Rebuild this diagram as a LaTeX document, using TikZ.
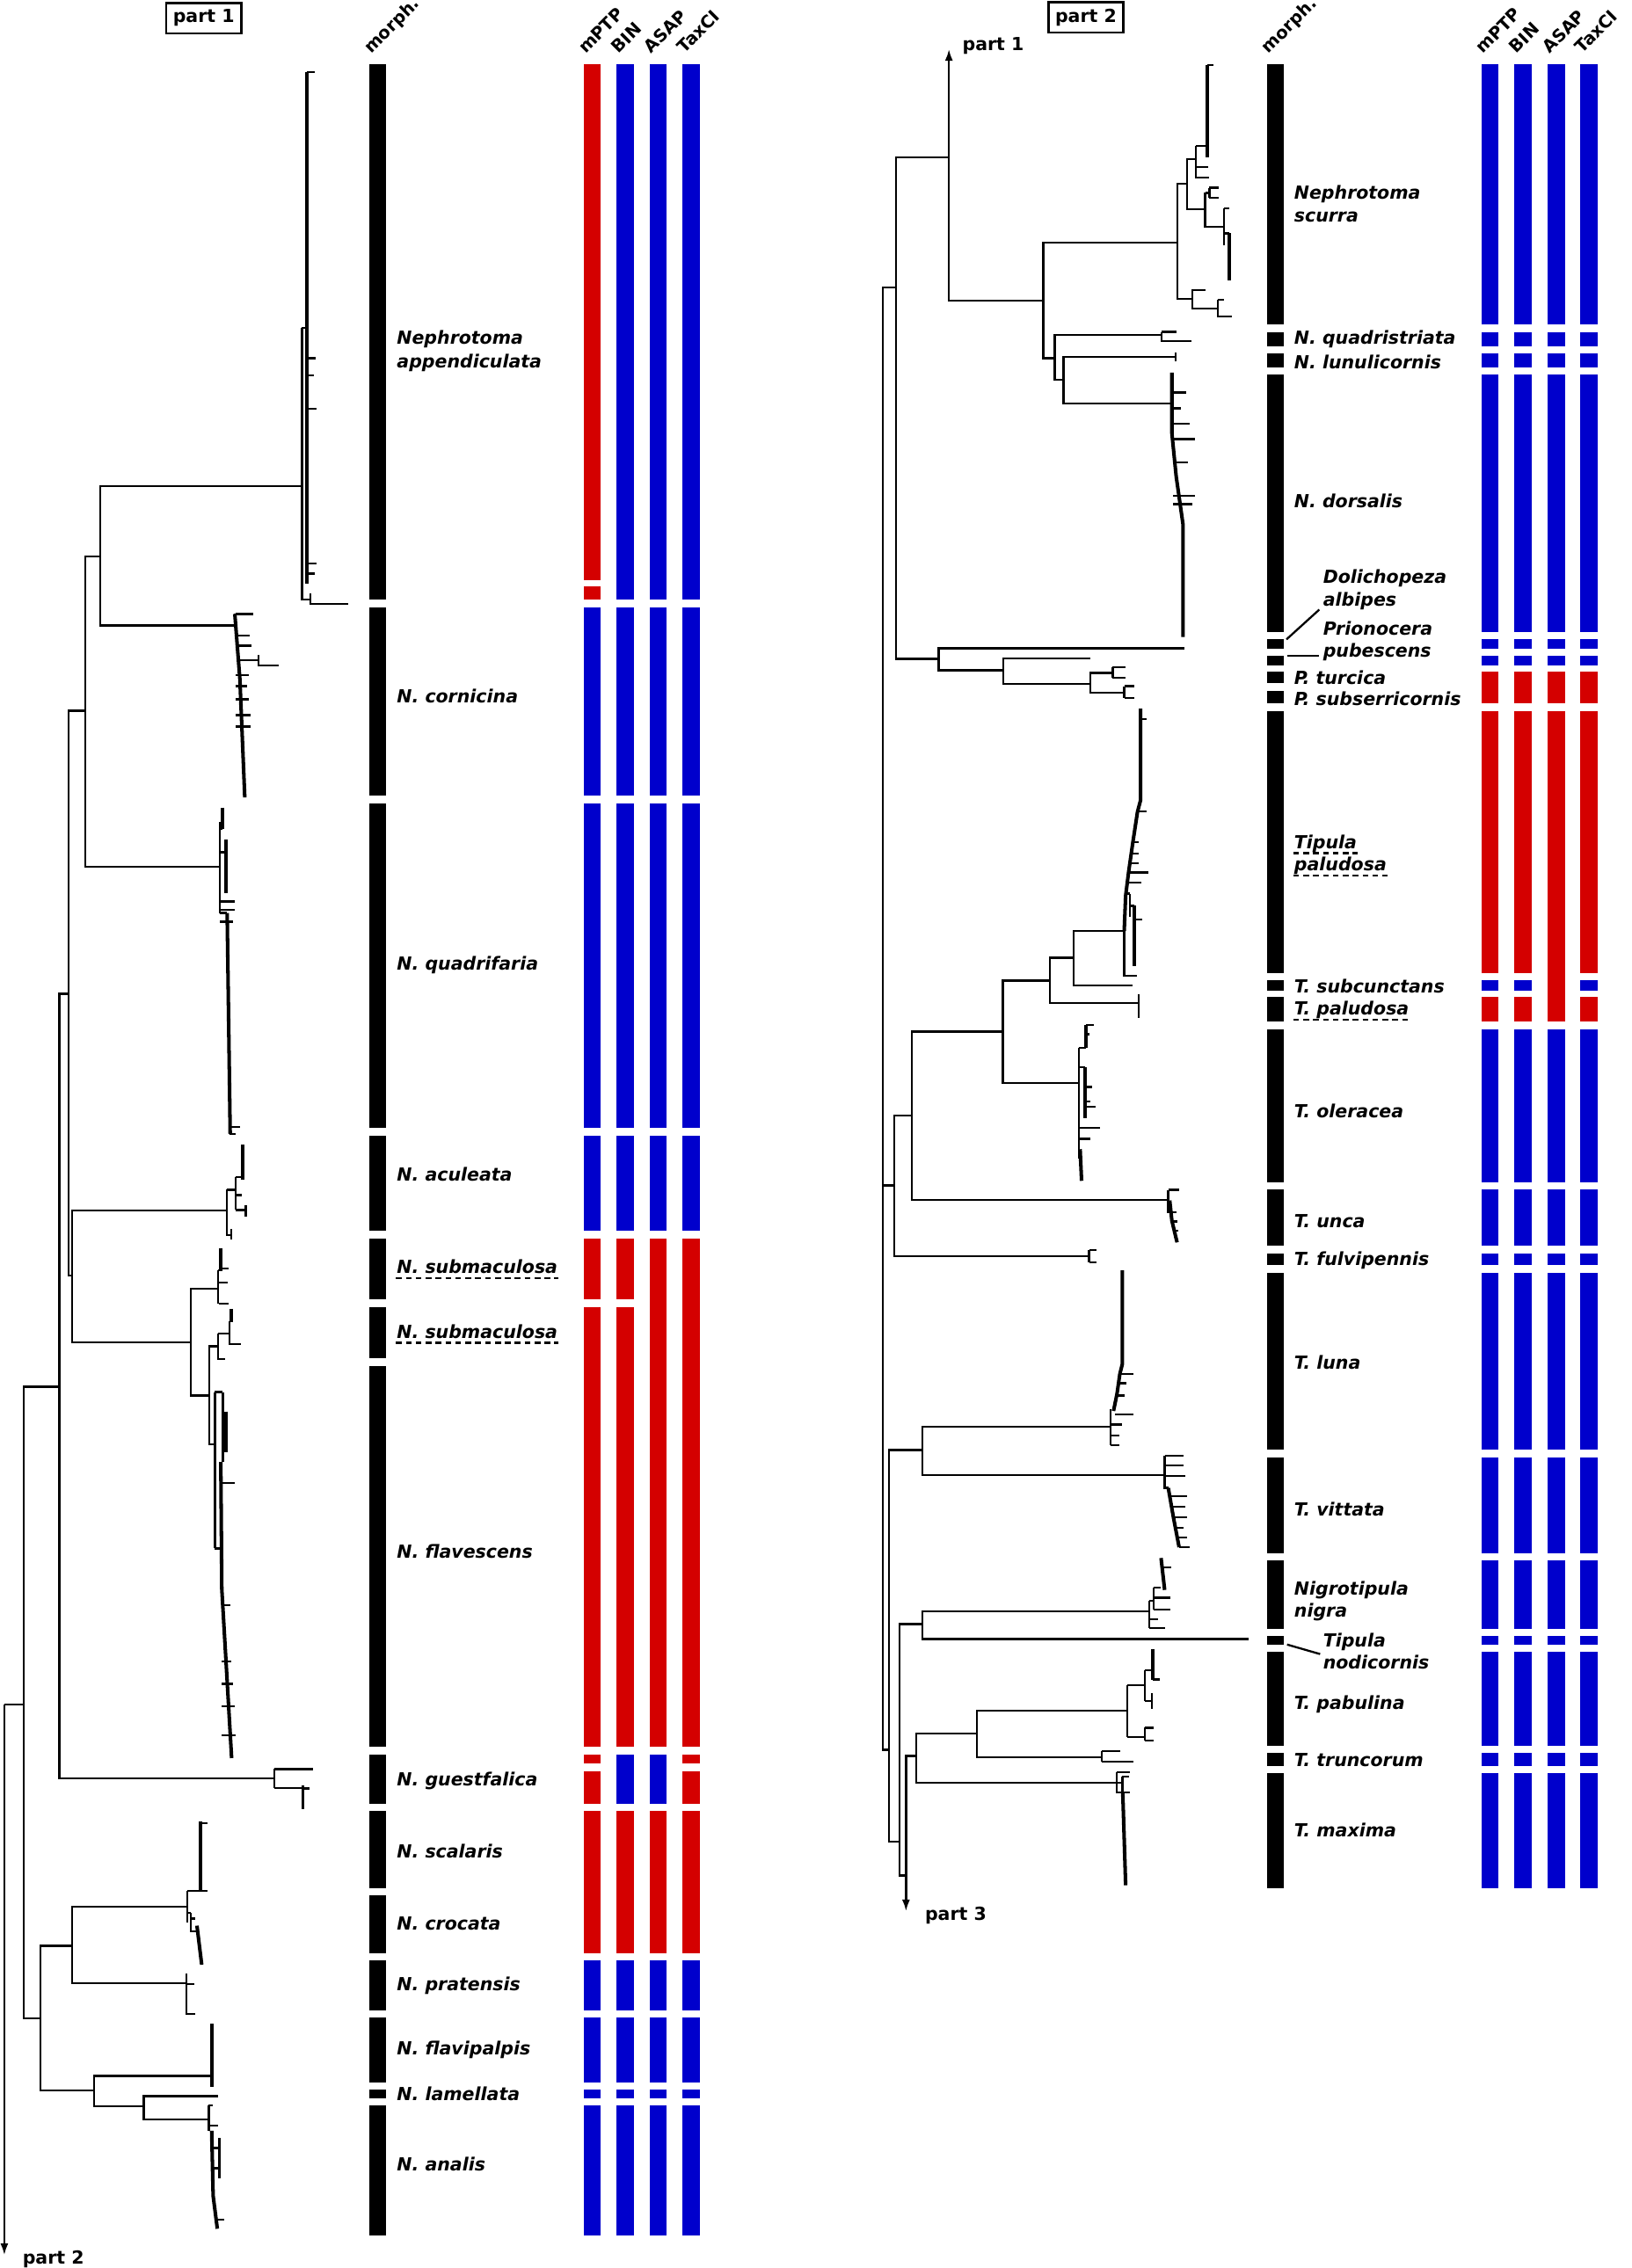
\documentclass[tikz,border=0pt]{standalone}
\usepackage{fontspec}
\setmainfont{DejaVu Sans}
\usetikzlibrary{arrows.meta}
\definecolor{mred}{RGB}{212,0,0}
\definecolor{mblue}{RGB}{0,0,204}
\tikzset{
    every node/.style={inner sep=0pt, font=\fontsize{7.1}{8.5}\selectfont\bfseries}
}
\tikzset{
    every edge/.append style={line width=0.8pt},
    elbow/.style={to path={|- (\tikztotarget)}}
}
\tikzset{
    taxlab/.style={anchor=base west, font=\fontsize{7.1}{8.5}\selectfont\bfseries\itshape},
    colhead/.style={anchor=base west, rotate=45, font=\fontsize{6.8}{8}\selectfont\bfseries},
    partbox/.style={draw, line width=0.9pt, minimum width=1.04cm, minimum height=0.42cm},
    tipline/.style={line width=1.4pt},
    uline/.style={line width=0.8pt, dash pattern=on 2.3pt off 1.6pt},
    partarrow/.style={-{Latex[length=1.6mm,width=1.1mm]}}
}

\begin{document}
\begin{tikzpicture}[x=0.02cm, y=-0.02cm, line width=0.8pt]
	\useasboundingbox (0,0) rectangle (1129,1570);

	% part 1: tree
	\coordinate (r1) at (3,1180);
	\coordinate (arr2) at (3,1561);
	\coordinate (a1) at (16.5,1180);
	\coordinate (b1) at (41,960);
	\coordinate (c1) at (28,1397);
	\coordinate (d1) at (47.5,688);
	\coordinate (e1) at (59,492);
	\coordinate (f1) at (50,883);
	\coordinate (h1) at (69.5,385);
	\coordinate (ap) at (209,336.5);
	\coordinate (co) at (162.5,433);
	\coordinate (qf) at (152,600);
	\coordinate (ac) at (157,838);
	\coordinate (fl) at (132,929);
	\coordinate (sm1) at (151,892);
	\coordinate (fl2) at (145,966);
	\coordinate (sm2) at (151,932);
	\coordinate (fv) at (148.7,1000);
	\coordinate (gu) at (190,1231);
	\coordinate (i1) at (50,1347);
	\coordinate (j1) at (65,1447);
	\coordinate (sc) at (129.5,1320);
	\coordinate (pr) at (129,1373);
	\coordinate (fp) at (146.5,1437);
	\coordinate (k1) at (99.5,1458);
	\coordinate (la) at (151,1451);
	\coordinate (an) at (144.5,1467);

	\draw[partarrow] (r1) -- (arr2);
	\draw (r1) edge[elbow] (a1);
	\draw (a1) edge[elbow] (b1); \draw (a1) edge[elbow] (c1);
	\draw (b1) edge[elbow] (d1); \draw (b1) edge[elbow] (gu);
	\draw (d1) edge[elbow] (e1); \draw (d1) edge[elbow] (f1);
	\draw (e1) edge[elbow] (h1); \draw (e1) edge[elbow] (qf);
	\draw (h1) edge[elbow] (ap); \draw (h1) edge[elbow] (co);
	\draw (f1) edge[elbow] (ac); \draw (f1) edge[elbow] (fl);
	\draw (fl) edge[elbow] (sm1); \draw (fl) edge[elbow] (fl2);
	\draw (fl2) edge[elbow] (sm2); \draw (fl2) edge[elbow] (fv);
	\draw (c1) edge[elbow] (i1); \draw (c1) edge[elbow] (j1);
	\draw (i1) edge[elbow] (sc); \draw (i1) edge[elbow] (pr);
	\draw (j1) edge[elbow] (fp); \draw (j1) edge[elbow] (k1);
	\draw (k1) edge[elbow] (la); \draw (k1) edge[elbow] (an);

	% part 1: tips
	\draw (209,227) -- (209,415) -- (215,415);
	\draw (209,227) -- (212.5,227);
	\draw[tipline] (212.5,50) -- (212.5,404);
	\foreach \y/\x in {50/218, 248/218.7, 260/217, 283/219, 390/219, 397/218}
		\draw (212.5,\y) -- (\x,\y);
	\draw (215,411) -- (215,418) -- (241,418);

	\draw (162.5,425) -- (162.5,433);
	\draw[tipline] (162.5,425) -- (166,470) -- (169.4,552);
	\foreach \y/\x in {425/175, 440/173, 447/174, 467.5/172, 475/171, 484/172, 495/173.5, 503/173.5}
		\draw (163,\y) -- (\x,\y);
	\draw (164.5,457) -- (179,457); \draw (179,453.4) -- (179,460.6) -- (192.7,460.6);

	\draw (152,569) -- (152,632);
	\draw[tipline] (153.8,559) -- (153.8,574);
	\draw[tipline] (156.2,581) -- (156.2,618);
	\draw (152,574) -- (153.8,574); \draw (152,590) -- (156.2,590);
	\foreach \y/\x in {624/162.3, 630/162.3, 638/161}
		\draw (152,\y) -- (\x,\y);
	\draw (152,632) -- (157.2,632);
	\draw[tipline] (157.2,632) -- (159.3,785);
	\draw (159,780) -- (166,780); \draw (159,785) -- (163.3,785);

	\draw (157,823.6) -- (157,855) -- (160,855); \draw (160,851) -- (160,858);
	\draw (157,823.6) -- (163,823.6); \draw (163,815) -- (163,837.6);
	\draw (163,815) -- (167.8,815); \draw[tipline] (167.8,792.5) -- (167.8,816.7);
	\draw (163,827.3) -- (167.4,827.3); \draw (163,837.6) -- (170,837.6);
	\draw (170,834) -- (170,842);

	\draw (151,879.5) -- (151,902.6);
	\draw[tipline] (153,864) -- (153,880);
	\draw (151,879.5) -- (153,879.5);
	\foreach \y/\x in {878/158, 888/157.7, 902.6/158}
		\draw (151.5,\y) -- (\x,\y);

	\draw (151,923.3) -- (151,940.8) -- (155.8,940.8);
	\draw (151,923.3) -- (159,923.3); \draw (159,914.8) -- (159,930.4) -- (166.8,930.4);
	\draw[tipline] (160,906) -- (160,915); \draw (159,914.8) -- (160,914.8);

	\draw (148.7,963.6) -- (148.7,1071.9);
	\draw (148.7,963.6) -- (154.2,963.6); \draw (154.2,963.6) -- (154.2,1012);
	\draw[tipline] (156.6,977) -- (156.6,1005.5); \draw (154.2,990) -- (156.6,990);
	\draw (148.7,1071.9) -- (152.8,1071.9);
	\draw[tipline] (152.8,1012) -- (153.5,1100) -- (160.3,1217);
	\foreach \y/\x in {1026.5/162.3, 1111/159.3, 1150/160.3, 1165.7/161.3, 1181/162.3, 1201.4/163.3}
		\draw (153.5,\y) -- (\x,\y);

	\draw (190,1224.6) -- (190,1237.7);
	\draw (190,1224.6) -- (216.7,1224.6);
	\draw (190,1237.7) -- (209.6,1237.7); \draw (209.6,1236) -- (209.6,1252.6);
	\draw (209.6,1238) -- (214,1238);

	\draw (129.5,1309) -- (129.5,1331);
	\draw (129.5,1309) -- (143.4,1309); \draw[tipline] (139,1260.6) -- (139,1309);
	\draw (139,1262) -- (143.4,1262);
	\draw (129.5,1324) -- (131.9,1324); \draw (131.9,1324) -- (131.9,1337) -- (136.3,1337);
	\draw (131.9,1328) -- (135,1328);
	\draw[tipline] (136.3,1333) -- (139.6,1360);

	\draw (129,1366) -- (129,1394) -- (135,1394);
	\draw (129,1373.6) -- (134.3,1373.6);

	\draw[tipline] (146.5,1401) -- (146.5,1444.5);

	\draw (144.5,1457.5) -- (144.5,1475); \draw (144.5,1457.5) -- (147,1457.5);
	\draw (144.5,1471.4) -- (151.2,1471.4);
	\draw[tipline] (146.5,1475) -- (147.5,1520) -- (150.4,1542.8);
	\draw (147,1487) -- (151.8,1487); \draw (147.3,1501) -- (151.8,1501);
	\draw (151.8,1480) -- (151.8,1508); \draw (150,1536.6) -- (155.2,1536.6);

	% part 2: tree
	\coordinate (R2) at (611,820.6);
	\coordinate (A2) at (620,199);
	\coordinate (P1) at (656.7,109);
	\coordinate (ar1) at (656.7,34);
	\coordinate (N2) at (722,208);
	\coordinate (SC) at (815,168);
	\coordinate (SCa) at (821.7,127);
	\coordinate (SCb) at (825,207);
	\coordinate (SCc) at (827.8,110);
	\coordinate (SCd) at (834,145);
	\coordinate (SCe) at (847,157);
	\coordinate (SCf) at (843,213.6);
	\coordinate (SCg) at (834,201);
	\coordinate (QL) at (730,248);
	\coordinate (QS) at (804,232);
	\coordinate (LD) at (736,263);
	\coordinate (LU) at (813.6,247);
	\coordinate (DO) at (811,279.5);
	\coordinate (D2) at (649.6,456);
	\coordinate (DA) at (819.6,448.7);
	\coordinate (PR) at (694.5,464);
	\coordinate (PP) at (754.7,455.8);
	\coordinate (PT) at (754.7,473.5);
	\coordinate (TU) at (770,465.8);
	\coordinate (SS) at (778,479.7);
	\coordinate (T2) at (618.8,820.6);
	\coordinate (T3) at (631,772);
	\coordinate (T4) at (694,714);
	\coordinate (T5) at (726.4,678.8);
	\coordinate (T6) at (743,663);
	\coordinate (PA) at (778,644.5);
	\coordinate (SU) at (783.6,682.2);
	\coordinate (PA2) at (788,694.4);
	\coordinate (OL) at (746.7,749.8);
	\coordinate (UN) at (808.5,830.6);
	\coordinate (FU) at (753.7,869.4);
	\coordinate (T7) at (615.2,1211.3);
	\coordinate (LV) at (638.5,1003.8);
	\coordinate (LN) at (768.6,987.6);
	\coordinate (VI) at (806,1021);
	\coordinate (T8) at (622.5,1275);
	\coordinate (NN) at (638.5,1124.2);
	\coordinate (NI) at (795.3,1115.4);
	\coordinate (ND) at (864,1134.5);
	\coordinate (M2) at (627,1298.3);
	\coordinate (ar3) at (627,1323);
	\coordinate (T9) at (634,1215.6);
	\coordinate (T10) at (676,1200);
	\coordinate (PB) at (780,1184);
	\coordinate (TR) at (762.5,1216.3);
	\coordinate (MX) at (773,1234);

	\draw[partarrow] (P1) -- (ar1);
	\draw[partarrow] (M2) -- (ar3);
	\draw (R2) edge[elbow] (A2); \draw (R2) edge[elbow] (T2); \draw (R2) edge[elbow] (T7);
	\draw (A2) edge[elbow] (P1); \draw (A2) edge[elbow] (D2);
	\draw (P1) edge[elbow] (N2);
	\draw (N2) edge[elbow] (SC); \draw (N2) edge[elbow] (QL);
	\draw (SC) edge[elbow] (SCa); \draw (SC) edge[elbow] (SCb);
	\draw (SCa) edge[elbow] (SCc); \draw (SCa) edge[elbow] (SCd);
	\draw (SCd) edge[elbow] (SCe);
	\draw (SCb) edge[elbow] (SCf); \draw (SCb) edge[elbow] (SCg);
	\draw (QL) edge[elbow] (QS); \draw (QL) edge[elbow] (LD);
	\draw (LD) edge[elbow] (LU); \draw (LD) edge[elbow] (DO);
	\draw (D2) edge[elbow] (DA); \draw (D2) edge[elbow] (PR);
	\draw (PR) edge[elbow] (PP); \draw (PR) edge[elbow] (PT);
	\draw (PT) edge[elbow] (TU); \draw (PT) edge[elbow] (SS);
	\draw (T2) edge[elbow] (T3); \draw (T2) edge[elbow] (FU);
	\draw (T3) edge[elbow] (T4); \draw (T3) edge[elbow] (UN);
	\draw (T4) edge[elbow] (T5); \draw (T4) edge[elbow] (OL);
	\draw (T5) edge[elbow] (T6); \draw (T5) edge[elbow] (PA2);
	\draw (T6) edge[elbow] (PA); \draw (T6) edge[elbow] (SU);
	\draw (T7) edge[elbow] (LV); \draw (T7) edge[elbow] (T8);
	\draw (LV) edge[elbow] (LN); \draw (LV) edge[elbow] (VI);
	\draw (T8) edge[elbow] (NN); \draw (T8) edge[elbow] (M2);
	\draw (NN) edge[elbow] (NI); \draw (NN) edge[elbow] (ND);
	\draw (M2) edge[elbow] (T9);
	\draw (T9) edge[elbow] (T10); \draw (T9) edge[elbow] (MX);
	\draw (T10) edge[elbow] (PB); \draw (T10) edge[elbow] (TR);

	% part 2: tips
	\draw (827.8,101) -- (827.8,123) -- (837,123);
	\draw (827.8,101) -- (835.5,101); \draw (827.8,115.5) -- (836,115.5);
	\draw[tipline] (835.5,45) -- (835.5,109); \draw (835.5,45) -- (840,45);
	\draw (834,133.5) -- (834,157); \draw (834,133.5) -- (837,133.5);
	\draw (837,130) -- (837,137);
	\draw (837,130) -- (843.6,130); \draw (837,137) -- (843.6,137);
	\draw (847,144.4) -- (847,170); \draw (847,144.4) -- (851,144.4);
	\draw (847,161.5) -- (851,161.5); \draw[tipline] (851,161.5) -- (851,194);
	\draw (843,207.4) -- (843,219) -- (852.5,219); \draw (843,207.4) -- (847,207.4);

	\draw (804,229.8) -- (804,236) -- (824.7,236); \draw (804,229.8) -- (814.5,229.8);
	\draw (813.6,244) -- (813.6,250);
	\draw[tipline] (811,258) -- (811,300) -- (814,330) -- (818.7,363) -- (818.7,441);
	\foreach \y/\x in {271.7/820.6, 282.6/817.5, 293.4/823.3, 304/826.9, 320/822, 343/826.9, 349/825.4}
		\draw (812,\y) -- (\x,\y);

	\draw (770,462) -- (770,469);
	\draw (770,462) -- (778.7,462); \draw (770,469) -- (778.7,469);
	\draw (778,475) -- (778,483);
	\draw (778,475) -- (784.7,475); \draw (778,483) -- (784.7,483);

	\draw[tipline] (789.3,490.5) -- (789.3,554) -- (787.2,562) -- (784,583) -- (781,604) -- (779,620) -- (778,644.5);
	\draw (778,644.5) -- (778,675.3) -- (786.6,675.3);
	\foreach \xa/\y/\xb in {789.3/497.7/793.7, 787.5/561.6/793.3, 784.5/583/788, 783.5/591/788, 782.5/597.5/788, 781.5/604/795, 780.5/611/790, 779.5/618.6/782}
		\draw (\xa,\y) -- (\xb,\y);
	\draw (782,618.6) -- (782,634.4); \draw (782,627) -- (785.2,627);
	\draw[tipline] (785.2,627) -- (785.2,669); \draw (785.2,636.3) -- (790.7,636.3);
	\draw (788,688.5) -- (788,704.4);

	\draw (746.7,725.5) -- (746.7,802); \draw (746.7,725.5) -- (751.7,725.5);
	\draw[tipline] (751.7,709.7) -- (751.7,725.5);
	\draw (751.7,709.7) -- (756.8,709.7); \draw (751.7,716) -- (754,716);
	\draw (746.7,738.7) -- (750.7,738.7); \draw[tipline] (750.7,738.7) -- (750.7,774.3);
	\foreach \y/\x in {752.4/755.8, 762.3/754.7, 766.2/758.2}
		\draw (750.7,\y) -- (\x,\y);
	\draw (746.7,780.9) -- (761.3,780.9); \draw (746.7,788.3) -- (754.4,788.3);
	\draw[tipline] (747.5,795.5) -- (748.5,817.4);

	\draw (808.5,823.7) -- (808.5,840); \draw (808.5,823.7) -- (816,823.7);
	\draw[tipline] (809.5,831) -- (811,845) -- (814.6,860);
	\draw (810,839) -- (814,839); \draw (810.5,845.6) -- (815,845.6); \draw (811.5,852) -- (815.5,852);

	\draw (753.7,865.4) -- (753.7,874);
	\draw (753.7,865.4) -- (759,865.4); \draw (753.7,874) -- (759,874);

	\draw[tipline] (776.7,879.4) -- (776.7,944.3) -- (775,951) -- (773,965) -- (770.6,976.7);
	\draw (768.6,975.2) -- (768.6,1000.3);
	\foreach \xa/\y/\xb in {775/951/784.2, 774/957.5/779.7, 773/966/778, 771.5/979/784.2, 768.6/986.1/776.7, 768.6/993.5/774.6, 768.6/1000.3/774.6}
		\draw (\xa,\y) -- (\xb,\y);

	\draw (806,1007.7) -- (806,1030) -- (808.5,1030);
	\draw (806,1007.7) -- (819.3,1007.7); \draw (806,1014.5) -- (819.3,1014.5);
	\draw (806,1021.5) -- (820.3,1021.5);
	\draw[tipline] (808.5,1030) -- (812,1050) -- (816,1071);
	\foreach \xa/\y/\xb in {809.5/1035.7/821.3, 811/1043/820.3, 812/1050.4/821.3, 813.5/1057.8/819.3, 814.5/1064.3/821.7, 816/1071/823.3}
		\draw (\xa,\y) -- (\xb,\y);

	\draw (795.3,1108) -- (795.3,1127); \draw (795.3,1108) -- (798.4,1108);
	\draw (798.4,1099) -- (798.4,1114); \draw (798.4,1099) -- (803.5,1099);
	\draw[tipline] (803.5,1078.5) -- (806,1100.6);
	\draw (805,1085) -- (810.6,1085);
	\draw (798.4,1106) -- (810,1106); \draw (798.4,1114) -- (810,1114);
	\draw (795.3,1121) -- (801.4,1121); \draw (795.3,1127) -- (806.5,1127);

	\draw (780,1166.4) -- (780,1202.4);
	\draw (780,1166.4) -- (792.3,1166.4); \draw (792.3,1156) -- (792.3,1177.3);
	\draw (792.3,1156) -- (798,1156); \draw[tipline] (798,1141.3) -- (798,1162.6);
	\draw (798,1162.6) -- (802.4,1162.6);
	\draw (792.3,1177.3) -- (797,1177.3); \draw (797,1172) -- (797,1183);
	\draw (780,1202.4) -- (792.3,1202.4); \draw (792.3,1196) -- (792.3,1205);
	\draw (792.3,1196) -- (798.4,1196); \draw (792.3,1205) -- (798.4,1205);

	\draw (762.5,1212) -- (762.5,1219.5);
	\draw (762.5,1212) -- (775.5,1212); \draw (762.5,1219.5) -- (784.6,1219.5);

	\draw (773,1226.6) -- (773,1240.8) -- (777,1240.8);
	\draw (773,1226.6) -- (782.2,1226.6);
	\draw (773,1234.2) -- (776.7,1234.2); \draw (776.7,1230) -- (776.7,1240.8);
	\draw (776.7,1230) -- (781.5,1230); \draw (776.7,1240.8) -- (782.2,1240.8);
	\draw[tipline] (777,1240.8) -- (779,1305);

	% part labels
	\node (pt1) [partbox] at (141,12.5) {part 1};
	\node (pt2) [partbox] at (751.5,12) {part 2};
	\node (lp1) [anchor=base west] at (665.4,34.8) {part 1};
	\node (lp2) [anchor=base west] at (15,1567.5) {part 2};
	\node (lp3) [anchor=base west] at (639.5,1329.2) {part 3};

	% column heads
	\node (hm1) [colhead] at (256.5,38) {morph.};
	\node (hp1) [colhead] at (404.8,38) {mPTP};
	\node (hb1) [colhead] at (427.7,38) {BIN};
	\node (ha1) [colhead] at (450.4,38) {ASAP};
	\node (ht1) [colhead] at (473.4,38) {TaxCI};
	\node (hm2) [colhead] at (877.5,38) {morph.};
	\node (hp2) [colhead] at (1026,38) {mPTP};
	\node (hb2) [colhead] at (1049,38) {BIN};
	\node (ha2) [colhead] at (1072,38) {ASAP};
	\node (ht2) [colhead] at (1094.6,38) {TaxCI};

	% part 1: bars
	\foreach \a/\b in {44.6/415, 420.5/550.5, 556/781, 786.5/851.8, 857.1/899.3, 904.6/940.2, 945.5/1209, 1214.3/1248.6, 1253.6/1307, 1312.2/1352, 1357.3/1391.7, 1396.7/1441.4, 1446.6/1452.3, 1457.5/1547.6}
		\fill (255.6,\a) rectangle (267.2,\b);
	\foreach \c in {403.8,426.7,449.4,472.4} {
		\foreach \a/\b in {420.5/550.5, 556/781, 786.5/851.8, 1357.3/1391.7, 1396.7/1441.4, 1446.6/1452.3, 1457.5/1547.6}
			\fill[mblue] (\c,\a) rectangle ({\c+11.8},\b);
		\fill[mred] (\c,1253.6) rectangle ({\c+11.8},1352);
	}
	\foreach \c in {426.7,449.4,472.4}
		\fill[mblue] (\c,44.6) rectangle ({\c+11.8},415);
	\foreach \c in {426.7,449.4}
		\fill[mblue] (\c,1214.3) rectangle ({\c+11.8},1248.6);
	\foreach \c in {403.8,426.7}
		\foreach \a/\b in {857.1/899.3, 904.6/1209}
			\fill[mred] (\c,\a) rectangle ({\c+11.8},\b);
	\foreach \c in {449.4,472.4}
		\fill[mred] (\c,857.1) rectangle ({\c+11.8},1209);
	\foreach \c in {403.8,472.4}
		\foreach \a/\b in {1214.3/1220.6, 1226/1248.6}
			\fill[mred] (\c,\a) rectangle ({\c+11.8},\b);
	\foreach \a/\b in {44.6/401.5, 406/415}
		\fill[mred] (403.8,\a) rectangle (415.6,\b);

	% part 2: bars
	\foreach \a/\b in {44.6/224.8, 229.9/240, 244.9/254.2, 259.3/437.8, 442.6/449.1, 453.9/460.4, 465/473, 478.4/487.1, 492/673.4, 678.4/685.5, 690.3/707.3, 712.8/818.3, 823.4/862.2, 867.6/875.8, 881/1003.4, 1009/1075, 1080/1127.6, 1132.6/1138.4, 1143.5/1208.3, 1213.3/1222.6, 1227.6/1307}
		\fill (876.9,\a) rectangle (888.6,\b);
	\foreach \c in {1025.2,1047.9,1070.9,1093.6} {
		\foreach \a/\b in {44.6/224.8, 229.9/240, 244.9/254.2, 259.3/437.8, 442.6/449.1, 453.9/460.4, 712.8/818.3, 823.4/862.2, 867.6/875.8, 881/1003.4, 1009/1075, 1080/1127.6, 1132.6/1138.4, 1143.5/1208.3, 1213.3/1222.6, 1227.6/1307}
			\fill[mblue] (\c,\a) rectangle ({\c+12},\b);
		\fill[mred] (\c,465) rectangle ({\c+12},487.1);
	}
	\foreach \c in {1025.2,1047.9,1093.6} {
		\fill[mred] (\c,492) rectangle ({\c+12},673.4);
		\fill[mblue] (\c,678.4) rectangle ({\c+12},685.5);
		\fill[mred] (\c,690.3) rectangle ({\c+12},707.3);
	}
	\fill[mred] (1070.9,492) rectangle (1082.9,707.3);

	% part 1: names
	\node (lap1) [taxlab] at (274,238.5) {Nephrotoma};
	\node (lap2) [taxlab] at (274,254.5) {appendiculata};
	\node (lco) [taxlab] at (274,486.5) {N. cornicina};
	\node (lqf) [taxlab] at (274,671.5) {N. quadrifaria};
	\node (lac) [taxlab] at (274,817.5) {N. aculeata};
	\node (lsm1) [taxlab] at (274,881.4) {N. submaculosa};
	\node (lsm2) [taxlab] at (274,926.2) {N. submaculosa};
	\node (lfv) [taxlab] at (274,1078.8) {N. flavescens};
	\node (lgu) [taxlab] at (274,1236.5) {N. guestfalica};
	\node (lsc) [taxlab] at (274,1286.4) {N. scalaris};
	\node (lcr) [taxlab] at (274,1336.2) {N. crocata};
	\node (lpr) [taxlab] at (274,1377.7) {N. pratensis};
	\node (lfp) [taxlab] at (274,1422.5) {N. flavipalpis};
	\node (lla) [taxlab] at (274,1454.2) {N. lamellata};
	\node (lan) [taxlab] at (274,1502.9) {N. analis};
	\draw[uline] ([yshift=-1.9pt]lsm1.base west) -- ([yshift=-1.9pt]lsm1.base east);
	\draw[uline] ([yshift=-1.9pt]lsm2.base west) -- ([yshift=-1.9pt]lsm2.base east);

	% part 2: names
	\node (lsu1) [taxlab] at (895,138) {Nephrotoma};
	\node (lsu2) [taxlab] at (895,153.5) {scurra};
	\node (lqs) [taxlab] at (895,238.5) {N. quadristriata};
	\node (llu) [taxlab] at (895,255) {N. lunulicornis};
	\node (ldo) [taxlab] at (895,351.5) {N. dorsalis};
	\node (ldl1) [taxlab] at (915,404) {Dolichopeza};
	\node (ldl2) [taxlab] at (915,419.5) {albipes};
	\node (lpp1) [taxlab] at (915,439.5) {Prionocera};
	\node (lpp2) [taxlab] at (915,455) {pubescens};
	\node (ltu) [taxlab] at (895,473.5) {P. turcica};
	\node (lss) [taxlab] at (895,488.5) {P. subserricornis};
	\node (ltp1) [taxlab] at (895,587.5) {Tipula};
	\node (ltp2) [taxlab] at (895,603) {paludosa};
	\node (lsc2) [taxlab] at (895,687.2) {T. subcunctans};
	\node (ltp3) [taxlab] at (895,702.5) {T. paludosa};
	\node (lol) [taxlab] at (895,773.5) {T. oleracea};
	\node (lun) [taxlab] at (895,850) {T. unca};
	\node (lfu) [taxlab] at (895,876) {T. fulvipennis};
	\node (lln) [taxlab] at (895,948) {T. luna};
	\node (lvi) [taxlab] at (895,1049.5) {T. vittata};
	\node (lni1) [taxlab] at (895,1104) {Nigrotipula};
	\node (lni2) [taxlab] at (895,1119.5) {nigra};
	\node (lnd1) [taxlab] at (915,1140) {Tipula};
	\node (lnd2) [taxlab] at (915,1155.5) {nodicornis};
	\node (lpb) [taxlab] at (895,1183) {T. pabulina};
	\node (ltr) [taxlab] at (895,1223) {T. truncorum};
	\node (lmx) [taxlab] at (895,1271.5) {T. maxima};
	\draw[uline] ([yshift=-1.7pt]ltp1.base west) -- ([yshift=-1.7pt]ltp1.base east);
	\draw[uline] ([yshift=-1.7pt]ltp2.base west) -- ([yshift=-1.7pt]ltp2.base east);
	\draw[uline] ([yshift=-1.9pt]ltp3.base west) -- ([yshift=-1.9pt]ltp3.base east);

	% leaders
	\coordinate (dlA) at (890.3,442.6); \coordinate (dlB) at (913,422);
	\coordinate (ppA) at (890.7,453.9); \coordinate (ppB) at (913,453.9);
	\coordinate (ndA) at (890.7,1138.4); \coordinate (ndB) at (913.6,1145);
	\draw (dlA) edge (dlB);
	\draw (ppA) edge (ppB);
	\draw (ndA) edge (ndB);
\end{tikzpicture}
\end{document}
